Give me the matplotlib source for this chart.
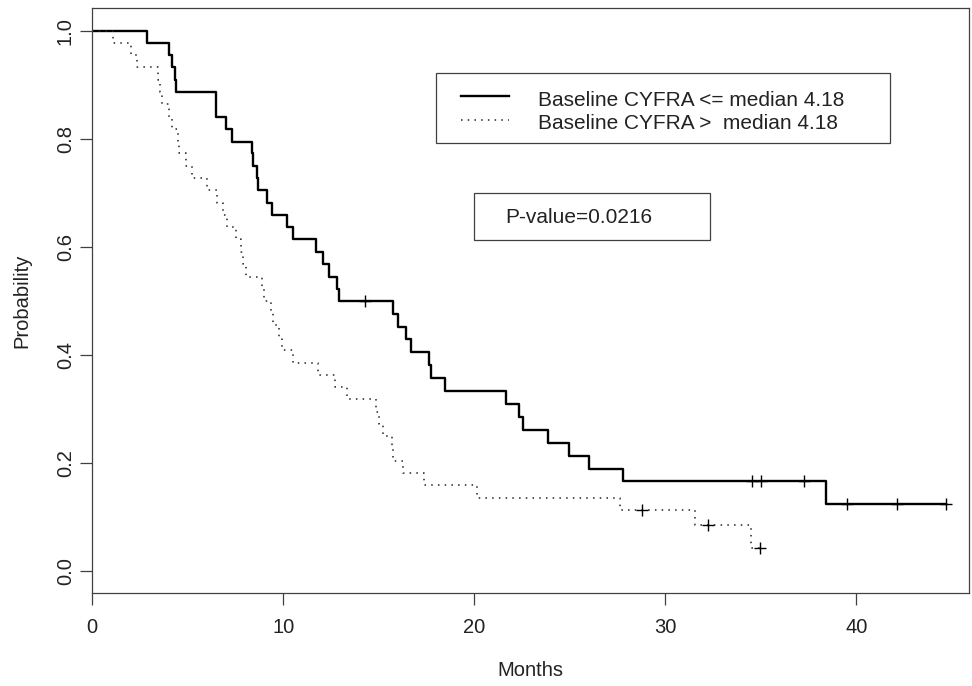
import numpy as np
import matplotlib.pyplot as plt
from matplotlib.patches import Rectangle
from matplotlib.lines import Line2D

plt.rcParams['font.family'] = ['Liberation Sans', 'DejaVu Sans']

# Kaplan-Meier steps (months, survival probability)
low_times = [0, 2.85, 4.03, 4.17, 4.31, 4.36, 6.46, 6.98, 7.30, 8.35, 8.43, 8.61, 8.69,
             9.16, 9.39, 10.18, 10.52, 11.71, 12.09, 12.39, 12.80, 12.90, 15.73, 15.99,
             16.41, 16.67, 17.61, 17.72, 18.47, 21.64, 22.34, 22.54, 23.88, 24.95, 26.02,
             27.80, 38.40, 44.68]
low_surv = [1.0, 0.977, 0.955, 0.932, 0.909, 0.886, 0.841, 0.818, 0.795, 0.773, 0.750,
            0.727, 0.705, 0.682, 0.659, 0.636, 0.614, 0.591, 0.568, 0.545, 0.523, 0.500,
            0.476, 0.452, 0.429, 0.405, 0.381, 0.357, 0.333, 0.310, 0.286, 0.262, 0.238,
            0.214, 0.190, 0.167, 0.125, 0.125]
low_censor = [14.26, 34.52, 35.01, 37.28, 39.53, 42.11, 44.68]

high_times = [0, 1.09, 2.01, 2.36, 3.46, 3.55, 3.67, 4.02, 4.16, 4.48, 4.55, 4.90, 5.24,
              6.00, 6.51, 6.85, 7.07, 7.50, 7.78, 7.90, 8.05, 8.90, 9.00, 9.35, 9.45,
              9.78, 9.95, 10.52, 11.80, 12.70, 13.35, 14.84, 15.00, 15.23, 15.70, 15.76,
              16.25, 17.36, 20.13, 27.63, 31.55, 34.47, 34.96]
high_surv = [1.0, 0.977, 0.955, 0.932, 0.909, 0.886, 0.864, 0.841, 0.818, 0.795, 0.773,
             0.750, 0.727, 0.705, 0.682, 0.659, 0.636, 0.614, 0.591, 0.568, 0.545, 0.523,
             0.500, 0.477, 0.455, 0.432, 0.409, 0.386, 0.364, 0.341, 0.318, 0.295, 0.273,
             0.250, 0.227, 0.205, 0.182, 0.159, 0.136, 0.114, 0.085, 0.043, 0.043]
high_censor = [28.76, 32.22, 34.96]

legend_labels = ['Baseline CYFRA <= median 4.18', 'Baseline CYFRA >  median 4.18']
p_text = 'P-value=0.0216'

W, H = 972, 686
fig = plt.figure(figsize=(W / 100, H / 100), dpi=100)
ax = fig.add_axes([92.3 / W, 1 - 593.3 / H, (969 - 92.3) / W, (593.3 - 8.3) / H])


def surv_at(times, surv, t):
    i = np.searchsorted(times, t, side='right') - 1
    return np.asarray(surv)[i]


ax.step(low_times, low_surv, where='post', color='black', lw=1.7)
ax.plot(low_censor, surv_at(low_times, low_surv, low_censor), ls='none', marker='+',
        ms=8.5, mew=1.0, color='black')

ax.step(high_times, high_surv, where='post', color='#222222', lw=1.1,
        linestyle=(0, (1, 3.4)))
ax.plot(high_censor, surv_at(high_times, high_surv, high_censor), ls='none', marker='+',
        ms=8.5, mew=1.0, color='black')

ax.set_xlim(0, 45.9)
ax.set_ylim(-0.0406, 1.0414)
ax.set_xticks([0, 10, 20, 30, 40])
ax.set_yticks([0, 0.2, 0.4, 0.6, 0.8, 1.0])
ax.set_yticklabels(['0.0', '0.2', '0.4', '0.6', '0.8', '1.0'], rotation=90, va='center')
ax.tick_params(direction='out', length=8.6, width=0.9, color='#404040',
               labelsize=14.5, colors='#222222')
ax.tick_params(axis='x', pad=9)
ax.tick_params(axis='y', pad=4)
for s in ax.spines.values():
    s.set_color('#404040')
    s.set_linewidth(0.9)

ax.set_xlabel('Months', fontsize=14.5, color='#222222')
ax.set_ylabel('Probability', fontsize=14.5, color='#222222')
ax.xaxis.set_label_coords(0.5, (593.3 - 671) / 585)
ax.xaxis.label.set_va('center')
ax.yaxis.set_label_coords((22 - 92.3) / 876.7, 0.5)
ax.yaxis.label.set_va('center')


def fx(px):
    return px / W


def fy(py):
    return 1 - py / H


# legend box
fig.add_artist(Rectangle((fx(436), fy(143.3)), fx(890) - fx(436), fy(73.3) - fy(143.3),
                         transform=fig.transFigure, fill=False, ec='#404040', lw=0.9))
fig.add_artist(Line2D([fx(460.7), fx(509)], [fy(96), fy(96)], transform=fig.transFigure,
                      color='black', lw=1.7))
fig.add_artist(Line2D([fx(460.7), fx(509)], [fy(120), fy(120)], transform=fig.transFigure,
                      color='#222222', lw=1.1, linestyle=(0, (1, 3.4))))
fig.text(fx(538), fy(100.3), legend_labels[0], fontsize=15, va='center', color='#222222')
fig.text(fx(538), fy(123.3), legend_labels[1], fontsize=15, va='center', color='#222222')

# p-value box
fig.add_artist(Rectangle((fx(474.3), fy(240)), fx(710) - fx(474.3), fy(193.3) - fy(240),
                         transform=fig.transFigure, fill=False, ec='#404040', lw=0.9))
fig.text(fx(505), fy(217.7), p_text, fontsize=15, va='center', color='#222222')

fig.savefig('out.png', dpi=100)
